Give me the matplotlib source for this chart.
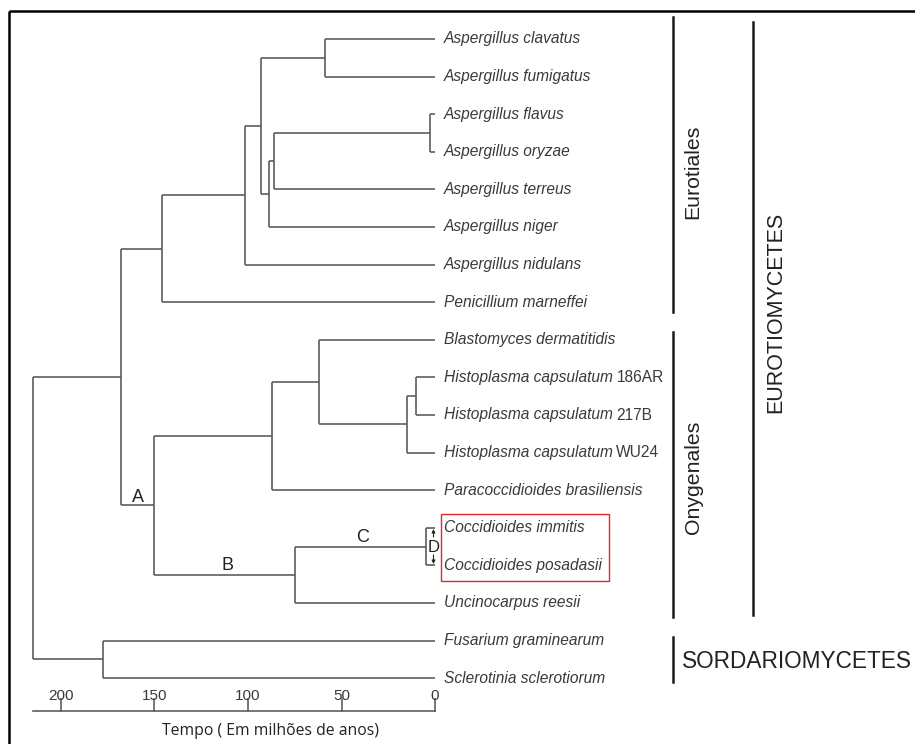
import matplotlib
matplotlib.use("Agg")
import matplotlib.pyplot as plt
from matplotlib.patches import Rectangle

# leaves, top to bottom
leaf_names = [
    "Aspergillus clavatus", "Aspergillus fumigatus", "Aspergillus flavus",
    "Aspergillus oryzae", "Aspergillus terreus", "Aspergillus niger",
    "Aspergillus nidulans", "Penicillium marneffei", "Blastomyces dermatitidis",
    "Histoplasma capsulatum", "Histoplasma capsulatum", "Histoplasma capsulatum",
    "Paracoccidioides brasiliensis", "Coccidioides immitis",
    "Coccidioides posadasii", "Uncinocarpus reesii", "Fusarium graminearum",
    "Sclerotinia sclerotiorum",
]
leaf_strains = ["", "", "", "", "", "", "", "", "", "186AR", "217B", "WU24",
                "", "", "", "", "", ""]

# internal nodes: name, children, age (millions of years)
node_names = ["clav_fum", "flav_ory", "fo_terr", "fot_niger", "asp_core",
              "asp_all", "eurotiales", "h186_217", "histo", "blasto_histo",
              "bhp", "cocc", "cocc_unc", "onygenales", "eurotiomycetes",
              "sordario", "root"]
node_children = [
    (0, 1), (2, 3), ("flav_ory", 4), ("fo_terr", 5), ("clav_fum", "fot_niger"),
    ("asp_core", 6), ("asp_all", 7), (9, 10), ("h186_217", 11),
    (8, "histo"), ("blasto_histo", 12), (13, 14), ("cocc", 15),
    ("bhp", "cocc_unc"), ("eurotiales", "onygenales"), (16, 17),
    ("eurotiomycetes", "sordario"),
]
node_ages = [59, 2.5, 86, 89, 93, 101.5, 146, 10, 15, 62, 87, 5, 75, 150,
             168, 177.5, 215]

axis_ticks = [200, 150, 100, 50, 0]
axis_start = 215

# layout: 0 Mya sits at pixel 435, 1.87 px per My; y in pixels
X0_PX = 435
PX_PER_MY = 1.87
W, H = 915, 744


def px2t(px):
    return (X0_PX - px) / PX_PER_MY


LEAF_Y0, LEAF_DY = 39, 37.6
TREE_COLOR = "#5e5e5e"
TEXT_COLOR = "#3a3a3a"

fig = plt.figure(figsize=(W / 100, H / 100), dpi=100)
ax = fig.add_axes([0, 0, 1, 1])
ax.set_xlim(px2t(0), px2t(W))
ax.set_ylim(H, 0)
ax.axis("off")

ypos = {i: LEAF_Y0 + LEAF_DY * i for i in range(len(leaf_names))}
age = {i: 0.0 for i in range(len(leaf_names))}
for name, kids, a in zip(node_names, node_children, node_ages):
    ypos[name] = sum(ypos[k] for k in kids) / 2
    age[name] = a
    for k in kids:
        ax.plot([a, age[k]], [ypos[k], ypos[k]], color=TREE_COLOR, lw=1.2,
                solid_capstyle="butt")
    ax.plot([a, a], [ypos[kids[0]], ypos[kids[1]]], color=TREE_COLOR, lw=1.2,
            solid_capstyle="butt")

# leaf labels (italic species + upright strain)
fig.canvas.draw()
renderer = fig.canvas.get_renderer()
lab_x = px2t(444)
for i, (nm, st) in enumerate(zip(leaf_names, leaf_strains)):
    t = ax.text(lab_x, ypos[i], nm, fontsize=11.2, style="italic",
                family="Liberation Sans", color=TEXT_COLOR, ha="left",
                va="center")
    if st:
        bb = t.get_window_extent(renderer)
        ax.text(px2t(bb.x1 + 3.5), ypos[i], st, fontsize=11.2,
                family="Liberation Sans", color=TEXT_COLOR, ha="left",
                va="center")

# node letters
for letter, px, py, fs in [("A", 138, 497, 13), ("B", 228, 565, 13),
                           ("C", 363, 537, 13), ("D", 434, 547, 12)]:
    ax.text(px2t(px), py, letter, fontsize=fs, family="Liberation Sans",
            color="#222222", ha="center", va="center")
for y0, y1 in [(537, 529), (555, 564)]:
    ax.annotate("", xy=(px2t(433.5), y1), xytext=(px2t(433.5), y0),
                arrowprops=dict(arrowstyle="-|>", color="#222222", lw=0.8,
                                mutation_scale=5, shrinkA=0, shrinkB=0))

# highlight box
ax.add_patch(Rectangle((px2t(441), 514), px2t(609) - px2t(441), 67,
                       fill=False, edgecolor="#e8262a", lw=1.0))

# time axis
ax.plot([axis_start, 0], [711, 711], color=TREE_COLOR, lw=1.2)
for tk in axis_ticks:
    ax.text(tk, 696, str(tk), fontsize=11, family="Liberation Sans",
            color=TEXT_COLOR, ha="center", va="center")
    ax.plot([tk, tk], [711, 699], color=TREE_COLOR, lw=1.2)
ax.text(px2t(271), 731, "Tempo ( Em milhões de anos)", fontsize=11.3,
        family="Open Sans", color="#222222", ha="center", va="center")

# group bars and labels
BAR = "#1a1a1a"
ax.plot([px2t(673)] * 2, [17, 312], color=BAR, lw=1.8)
ax.plot([px2t(673)] * 2, [332, 617], color=BAR, lw=1.8)
ax.plot([px2t(673)] * 2, [637, 682], color=BAR, lw=1.8)
ax.plot([px2t(753)] * 2, [22, 615], color=BAR, lw=1.8)
ax.text(px2t(693), 172, "Eurotiales", rotation=90, fontsize=15.3,
        family="Liberation Sans", color="#222222", ha="center", va="center")
ax.text(px2t(693), 477, "Onygenales", rotation=90, fontsize=15.3,
        family="Liberation Sans", color="#222222", ha="center", va="center")
ax.text(px2t(776), 312, "EUROTIOMYCETES", rotation=90, fontsize=15.5,
        family="Liberation Sans", color="#222222", ha="center", va="center")
ax.text(px2t(682), 662, "SORDARIOMYCETES", fontsize=16.3,
        family="Liberation Sans", color="#222222", ha="left", va="center")

# frame of the original figure
ax.plot([px2t(9), px2t(W)], [11, 11], color="black", lw=1.8,
        solid_capstyle="butt")
ax.plot([px2t(9), px2t(9)], [11, H], color="black", lw=1.8,
        solid_capstyle="butt")

fig.savefig("out.png", dpi=100)
